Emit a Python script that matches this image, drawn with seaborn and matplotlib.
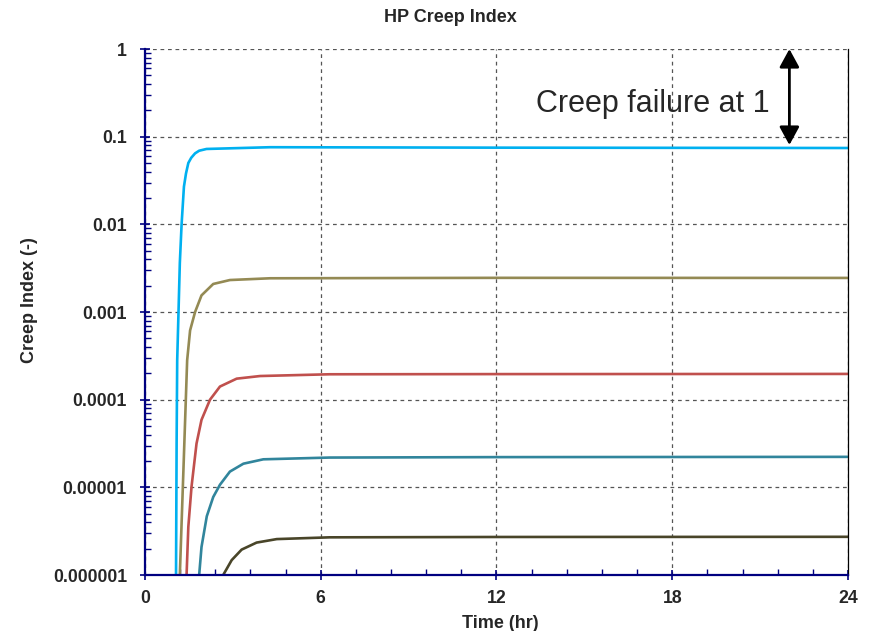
import numpy as np
import pandas as pd
import matplotlib
matplotlib.use("Agg")
import matplotlib.pyplot as plt
import seaborn as sns
from matplotlib.ticker import MultipleLocator, LogLocator, FixedLocator, NullFormatter

# time (hr) and log10(creep index), one list per curve
t_cyan = [1.05, 1.06, 1.08, 1.10, 1.19, 1.25, 1.33, 1.40, 1.48, 1.58, 1.71, 1.85, 2.1, 4.27, 12.0, 24.0]
e_cyan = [-7.0, -6.0, -4.5, -3.55, -2.44, -2.0, -1.57, -1.42, -1.30, -1.24, -1.19, -1.16, -1.14, -1.12,
          -1.125, -1.129]

t_olive = [1.18, 1.19, 1.25, 1.32, 1.38, 1.44, 1.54, 1.71, 1.93, 2.33, 2.9, 4.27, 12.0, 24.0]
e_olive = [-7.0, -6.0, -5.41, -4.73, -4.14, -3.55, -3.21, -3.0, -2.81, -2.68, -2.635, -2.615, -2.61, -2.611]

t_red = [1.41, 1.42, 1.48, 1.59, 1.76, 1.93, 2.22, 2.56, 3.13, 3.93, 6.3, 12.0, 24.0]
e_red = [-7.0, -6.0, -5.45, -4.99, -4.50, -4.23, -4.0, -3.85, -3.76, -3.73, -3.71, -3.708, -3.706]

t_teal = [1.84, 1.85, 1.93, 2.11, 2.33, 2.56, 2.9, 3.36, 4.04, 6.3, 12.0, 24.0]
e_teal = [-7.0, -6.0, -5.68, -5.33, -5.11, -4.97, -4.82, -4.73, -4.68, -4.66, -4.655, -4.652]

t_dark = [2.6, 2.67, 2.96, 3.30, 3.81, 4.5, 5.4, 6.3, 12.0, 24.0]
e_dark = [-6.25, -6.0, -5.83, -5.71, -5.63, -5.59, -5.58, -5.57, -5.566, -5.564]

curves = [
    ("cyan", t_cyan, e_cyan, "#00B0F0"),
    ("olive", t_olive, e_olive, "#948A54"),
    ("red", t_red, e_red, "#C0504D"),
    ("teal", t_teal, e_teal, "#31859C"),
    ("dark", t_dark, e_dark, "#494529"),
]

x_ticks = [0, 6, 12, 18, 24]
y_ticks = [1e-6, 1e-5, 1e-4, 1e-3, 1e-2, 1e-1, 1]
y_labels = ["0.000001", "0.00001", "0.0001", "0.001", "0.01", "0.1", "1"]

sns.set_style("white")
plt.rcParams["font.family"] = ["Liberation Sans", "DejaVu Sans"]

fig = plt.figure(figsize=(8.76, 6.31), dpi=100)
ax = fig.add_axes([0.1655, 0.0887, 0.8025, 0.8336])

for name, t, e, color in curves:
    df = pd.DataFrame({"time": t, "creep": 10.0 ** np.array(e)})
    sns.lineplot(data=df, x="time", y="creep", color=color, linewidth=1.9, ax=ax)

ax.set_yscale("log")
ax.set_xlim(0, 24)
ax.set_ylim(1e-6, 1)

ax.xaxis.set_major_locator(FixedLocator(x_ticks))
ax.xaxis.set_minor_locator(MultipleLocator(1.2))
ax.set_xticklabels([str(v) for v in x_ticks])
ax.yaxis.set_major_locator(FixedLocator(y_ticks))
ax.set_yticklabels(y_labels)
ax.yaxis.set_minor_locator(LogLocator(base=10, subs=np.arange(2, 10), numticks=20))
ax.yaxis.set_minor_formatter(NullFormatter())

ax.grid(True, which="major", linestyle=(0, (3, 3)), color="#555555", linewidth=0.9)
ax.set_axisbelow(True)

navy = "#000080"
ax.tick_params(axis="both", which="both", bottom=True, left=True, top=False, right=False)
ax.tick_params(axis="x", which="major", direction="inout", length=7, width=1.2,
               color=navy, labelsize=12.7, pad=7.5)
ax.tick_params(axis="y", which="major", direction="inout", length=7, width=1.2,
               color=navy, labelsize=12.7, pad=9.5)
ax.tick_params(axis="both", which="minor", direction="in", length=4, width=1, color=navy)
for lab in ax.get_xticklabels() + ax.get_yticklabels():
    lab.set_fontweight("bold")

for side in ["left", "bottom"]:
    ax.spines[side].set_color(navy)
    ax.spines[side].set_linewidth(1.6)
ax.spines["right"].set_color("black")
ax.spines["right"].set_linewidth(0.9)
ax.spines["top"].set_visible(False)

ax.set_xlabel("")
ax.set_ylabel("")
fig.text(500 / 876, 1 - 623 / 631, "Time (hr)", fontsize=13, fontweight="bold", ha="center", va="center")
fig.text(30 / 876, 1 - 300 / 631, "Creep Index (-)", fontsize=13, fontweight="bold",
         ha="center", va="center", rotation=90)
fig.text(450 / 876, 1 - 17 / 631, "HP Creep Index", fontsize=13, fontweight="bold", ha="center", va="center")

ax.annotate("", xy=(22.0, 1.0), xytext=(22.0, 0.0804),
            arrowprops=dict(arrowstyle="<|-|>,head_length=0.55,head_width=0.3", color="black",
                            lw=2, mutation_scale=20, shrinkA=0, shrinkB=0),
            annotation_clip=False)
ax.text(21.34, 0.191, "Creep failure at 1", fontsize=22, ha="right", va="baseline")

fig.savefig("out.png", dpi=100)
